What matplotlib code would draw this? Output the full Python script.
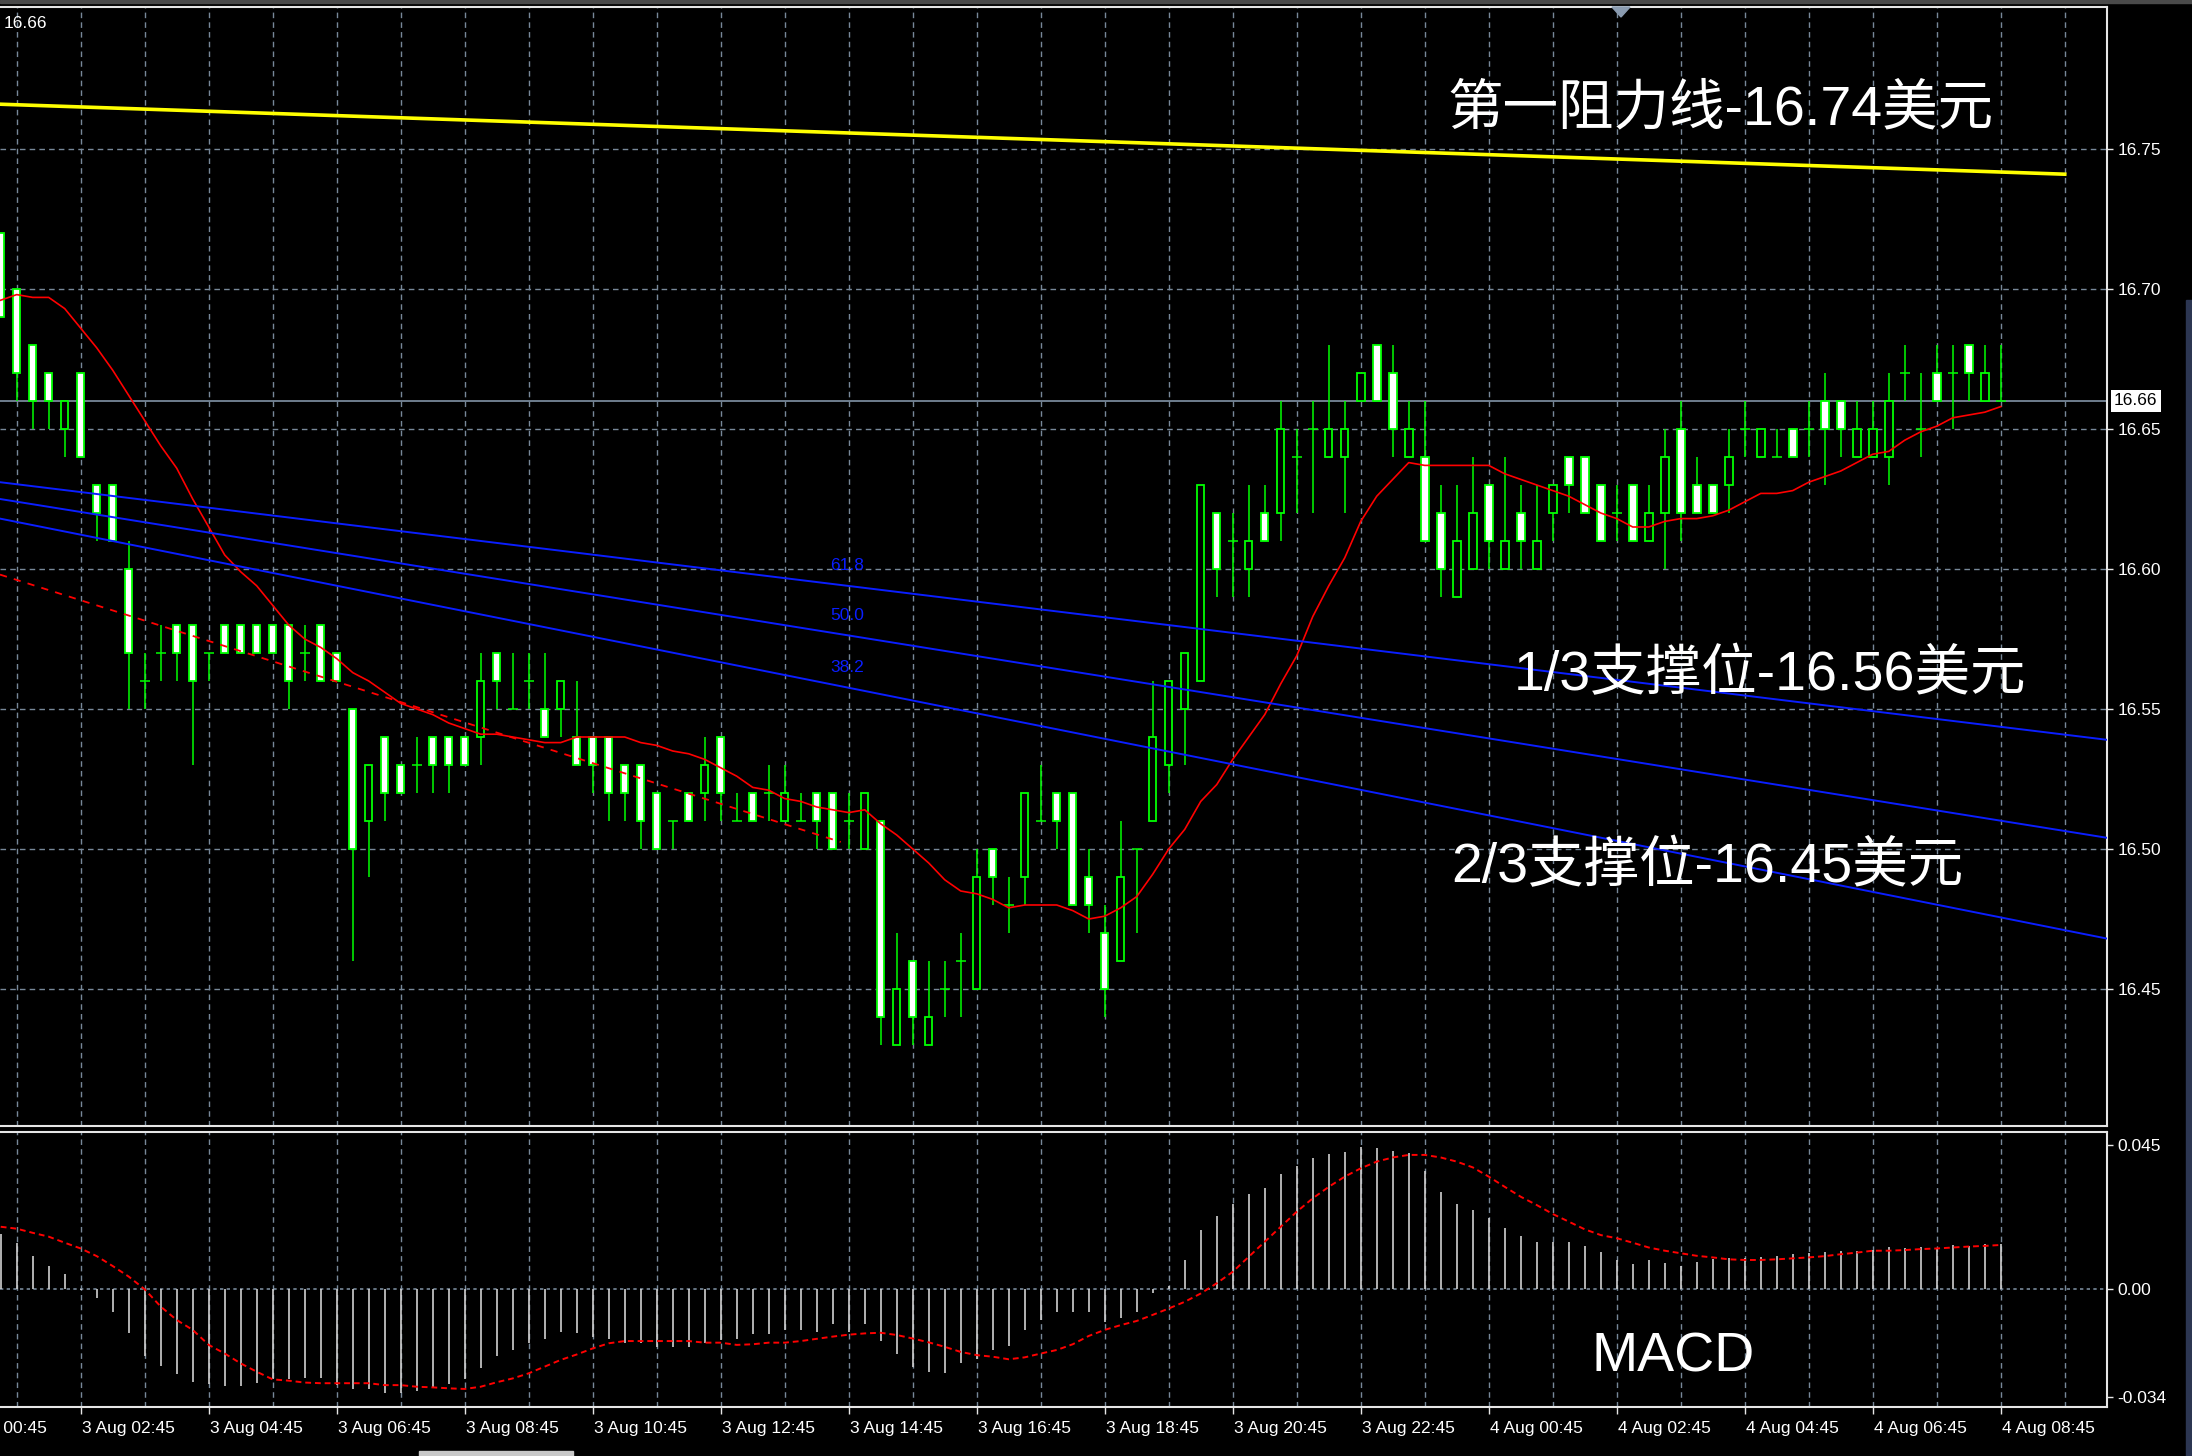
import matplotlib

matplotlib.use("Agg")
import matplotlib.pyplot as plt
import numpy as np
from matplotlib.patches import Polygon, Rectangle
from matplotlib.transforms import blended_transform_factory

plt.rcParams["font.family"] = ["Liberation Sans", "Noto Sans CJK SC"]

FIG_W, FIG_H = 2192, 1456

# 15-minute candles, 3 Aug 01:30 .. 4 Aug 08:45
OPENS = [
    16.72, 16.70, 16.68, 16.67, 16.65, 16.67, 16.63, 16.63, 16.60, 16.56,
    16.57, 16.58, 16.58, 16.57, 16.58, 16.58, 16.58, 16.58, 16.58, 16.57,
    16.58, 16.57, 16.55, 16.51, 16.54, 16.53, 16.53, 16.54, 16.54, 16.54,
    16.54, 16.57, 16.55, 16.56, 16.55, 16.55, 16.54, 16.54, 16.54, 16.53,
    16.53, 16.52, 16.51, 16.52, 16.52, 16.54, 16.51, 16.52, 16.52, 16.51,
    16.51, 16.52, 16.52, 16.51, 16.50, 16.51, 16.43, 16.46, 16.43, 16.45,
    16.46, 16.45, 16.50, 16.48, 16.49, 16.51, 16.52, 16.52, 16.49, 16.47,
    16.46, 16.50, 16.51, 16.53, 16.55, 16.56, 16.62, 16.61, 16.60, 16.62,
    16.62, 16.64, 16.65, 16.64, 16.64, 16.66, 16.68, 16.67, 16.64, 16.64,
    16.62, 16.59, 16.60, 16.63, 16.60, 16.62, 16.60, 16.62, 16.64, 16.64,
    16.63, 16.62, 16.63, 16.61, 16.62, 16.65, 16.63, 16.63, 16.63, 16.65,
    16.64, 16.64, 16.65, 16.65, 16.66, 16.66, 16.64, 16.64, 16.64, 16.67,
    16.65, 16.67, 16.67, 16.68, 16.66, 16.66,
]
HIGHS = [
    16.72, 16.70, 16.68, 16.67, 16.66, 16.67, 16.63, 16.63, 16.61, 16.57,
    16.58, 16.58, 16.58, 16.57, 16.58, 16.58, 16.58, 16.58, 16.58, 16.58,
    16.58, 16.57, 16.55, 16.53, 16.54, 16.53, 16.54, 16.54, 16.54, 16.54,
    16.57, 16.57, 16.57, 16.57, 16.57, 16.56, 16.56, 16.54, 16.54, 16.53,
    16.53, 16.52, 16.51, 16.52, 16.54, 16.54, 16.52, 16.52, 16.53, 16.53,
    16.52, 16.52, 16.52, 16.52, 16.52, 16.51, 16.47, 16.46, 16.46, 16.46,
    16.47, 16.50, 16.50, 16.49, 16.52, 16.53, 16.52, 16.52, 16.50, 16.48,
    16.51, 16.50, 16.56, 16.56, 16.57, 16.63, 16.62, 16.62, 16.63, 16.63,
    16.66, 16.65, 16.66, 16.68, 16.66, 16.67, 16.68, 16.68, 16.66, 16.66,
    16.63, 16.63, 16.64, 16.63, 16.64, 16.63, 16.63, 16.63, 16.64, 16.64,
    16.63, 16.63, 16.63, 16.63, 16.65, 16.66, 16.64, 16.63, 16.65, 16.66,
    16.65, 16.65, 16.65, 16.66, 16.67, 16.66, 16.66, 16.66, 16.67, 16.68,
    16.67, 16.68, 16.68, 16.68, 16.68, 16.68,
]
LOWS = [
    16.69, 16.66, 16.65, 16.65, 16.64, 16.64, 16.61, 16.61, 16.55, 16.55,
    16.56, 16.56, 16.53, 16.56, 16.57, 16.57, 16.57, 16.57, 16.55, 16.56,
    16.56, 16.56, 16.46, 16.49, 16.51, 16.52, 16.52, 16.52, 16.52, 16.53,
    16.53, 16.55, 16.55, 16.55, 16.54, 16.54, 16.53, 16.52, 16.51, 16.51,
    16.50, 16.50, 16.50, 16.51, 16.51, 16.51, 16.51, 16.51, 16.51, 16.51,
    16.51, 16.50, 16.50, 16.50, 16.50, 16.43, 16.43, 16.43, 16.43, 16.44,
    16.44, 16.45, 16.48, 16.47, 16.48, 16.51, 16.50, 16.48, 16.47, 16.44,
    16.46, 16.47, 16.51, 16.52, 16.53, 16.56, 16.59, 16.59, 16.59, 16.61,
    16.61, 16.62, 16.62, 16.64, 16.62, 16.66, 16.66, 16.64, 16.64, 16.61,
    16.59, 16.59, 16.60, 16.60, 16.60, 16.60, 16.60, 16.61, 16.62, 16.62,
    16.61, 16.61, 16.61, 16.61, 16.60, 16.61, 16.62, 16.62, 16.62, 16.64,
    16.64, 16.64, 16.64, 16.64, 16.63, 16.64, 16.64, 16.64, 16.63, 16.66,
    16.64, 16.66, 16.65, 16.66, 16.66, 16.66,
]
CLOSES = [
    16.69, 16.67, 16.66, 16.66, 16.66, 16.64, 16.62, 16.61, 16.57, 16.56,
    16.57, 16.57, 16.56, 16.57, 16.57, 16.57, 16.57, 16.57, 16.56, 16.57,
    16.56, 16.56, 16.50, 16.53, 16.52, 16.52, 16.53, 16.53, 16.53, 16.53,
    16.56, 16.56, 16.55, 16.56, 16.54, 16.56, 16.53, 16.53, 16.52, 16.52,
    16.51, 16.50, 16.51, 16.51, 16.53, 16.52, 16.51, 16.51, 16.52, 16.52,
    16.51, 16.51, 16.50, 16.51, 16.52, 16.44, 16.45, 16.44, 16.44, 16.45,
    16.46, 16.49, 16.49, 16.48, 16.52, 16.51, 16.51, 16.48, 16.48, 16.45,
    16.49, 16.50, 16.54, 16.56, 16.57, 16.63, 16.60, 16.61, 16.61, 16.61,
    16.65, 16.64, 16.65, 16.65, 16.65, 16.67, 16.66, 16.65, 16.65, 16.61,
    16.60, 16.61, 16.62, 16.61, 16.61, 16.61, 16.61, 16.63, 16.63, 16.62,
    16.61, 16.62, 16.61, 16.62, 16.64, 16.62, 16.62, 16.62, 16.64, 16.65,
    16.65, 16.64, 16.64, 16.65, 16.65, 16.65, 16.65, 16.65, 16.66, 16.67,
    16.65, 16.66, 16.67, 16.67, 16.67, 16.66,
]
MA_VALUES = [
    16.696, 16.698, 16.697, 16.697, 16.693, 16.686, 16.679, 16.671, 16.662, 16.653,
    16.644, 16.636, 16.625, 16.615, 16.605, 16.599, 16.594, 16.587, 16.580, 16.575,
    16.572, 16.568, 16.563, 16.560, 16.556, 16.552, 16.550, 16.548, 16.545, 16.543,
    16.541, 16.541, 16.540, 16.539, 16.538, 16.538, 16.540, 16.540, 16.540, 16.540,
    16.538, 16.537, 16.535, 16.534, 16.532, 16.529, 16.526, 16.522, 16.521, 16.518,
    16.517, 16.515, 16.514, 16.513, 16.514, 16.509, 16.505, 16.500, 16.495, 16.489,
    16.485, 16.484, 16.482, 16.479, 16.480, 16.480, 16.480, 16.478, 16.475, 16.476,
    16.479, 16.483, 16.491, 16.500, 16.507, 16.517, 16.523, 16.532, 16.540, 16.548,
    16.559, 16.569, 16.583, 16.594, 16.604, 16.617, 16.626, 16.632, 16.638, 16.637,
    16.637, 16.637, 16.637, 16.637, 16.634, 16.632, 16.630, 16.628, 16.626, 16.623,
    16.620, 16.618, 16.615, 16.615, 16.617, 16.618, 16.618, 16.619, 16.621, 16.624,
    16.627, 16.627, 16.628, 16.631, 16.633, 16.635, 16.638, 16.641, 16.642, 16.646,
    16.649, 16.651, 16.654, 16.655, 16.656, 16.658,
]
MACD_HIST = [
    0.0171, 0.0144, 0.0102, 0.0071, 0.0046, -0.0005, -0.0028, -0.0072, -0.0140, -0.0210,
    -0.0242, -0.0267, -0.0291, -0.0299, -0.0305, -0.0305, -0.0296, -0.0284, -0.0284, -0.0281,
    -0.0281, -0.0302, -0.0315, -0.0315, -0.0328, -0.0328, -0.0320, -0.0307, -0.0300, -0.0284,
    -0.0247, -0.0210, -0.0192, -0.0171, -0.0159, -0.0135, -0.0140, -0.0150, -0.0156, -0.0171,
    -0.0171, -0.0184, -0.0184, -0.0184, -0.0171, -0.0160, -0.0159, -0.0142, -0.0142, -0.0129,
    -0.0129, -0.0135, -0.0109, -0.0135, -0.0109, -0.0163, -0.0203, -0.0246, -0.0260, -0.0265,
    -0.0234, -0.0221, -0.0192, -0.0180, -0.0129, -0.0098, -0.0072, -0.0072, -0.0072, -0.0103,
    -0.0091, -0.0072, -0.0015, 0.0008, 0.0090, 0.0184, 0.0228, 0.0265, 0.0296, 0.0315,
    0.0359, 0.0384, 0.0408, 0.0422, 0.0428, 0.0445, 0.0440, 0.0432, 0.0426, 0.0370,
    0.0303, 0.0265, 0.0246, 0.0220, 0.0189, 0.0165, 0.0146, 0.0146, 0.0146, 0.0134,
    0.0115, 0.0090, 0.0077, 0.0090, 0.0079, 0.0071, 0.0084, 0.0094, 0.0096, 0.0096,
    0.0100, 0.0102, 0.0109, 0.0113, 0.0116, 0.0119, 0.0119, 0.0121, 0.0132, 0.0126,
    0.0132, 0.0129, 0.0137, 0.0134, 0.0140, 0.0140,
]
MACD_SIGNAL = [
    0.0194, 0.0188, 0.0175, 0.0163, 0.0144, 0.0126, 0.0102, 0.0071, 0.0038, -0.0002,
    -0.0056, -0.0098, -0.0129, -0.0176, -0.0203, -0.0234, -0.0260, -0.0284, -0.0288, -0.0294,
    -0.0296, -0.0296, -0.0296, -0.0296, -0.0302, -0.0302, -0.0307, -0.0309, -0.0312, -0.0314,
    -0.0307, -0.0293, -0.0281, -0.0265, -0.0244, -0.0223, -0.0206, -0.0187, -0.0171, -0.0164,
    -0.0164, -0.0164, -0.0164, -0.0164, -0.0169, -0.0169, -0.0176, -0.0174, -0.0169, -0.0169,
    -0.0164, -0.0157, -0.0150, -0.0144, -0.0140, -0.0138, -0.0145, -0.0156, -0.0168, -0.0182,
    -0.0198, -0.0208, -0.0213, -0.0221, -0.0215, -0.0203, -0.0192, -0.0174, -0.0148, -0.0129,
    -0.0114, -0.0101, -0.0082, -0.0062, -0.0041, -0.0015, 0.0017, 0.0053, 0.0100, 0.0147,
    0.0194, 0.0241, 0.0283, 0.0319, 0.0351, 0.0377, 0.0398, 0.0411, 0.0419, 0.0419,
    0.0411, 0.0398, 0.0380, 0.0351, 0.0319, 0.0288, 0.0262, 0.0234, 0.0210, 0.0186,
    0.0168, 0.0158, 0.0144, 0.0129, 0.0119, 0.0111, 0.0103, 0.0098, 0.0092, 0.0090,
    0.0090, 0.0092, 0.0095, 0.0098, 0.0102, 0.0108, 0.0113, 0.0119, 0.0119, 0.0121,
    0.0124, 0.0126, 0.0129, 0.0132, 0.0134, 0.0137,
]
TIME_LABELS = [
    "3 Aug 00:45", "3 Aug 02:45", "3 Aug 04:45", "3 Aug 06:45", "3 Aug 08:45",
    "3 Aug 10:45", "3 Aug 12:45", "3 Aug 14:45", "3 Aug 16:45", "3 Aug 18:45",
    "3 Aug 20:45", "3 Aug 22:45", "4 Aug 00:45", "4 Aug 02:45", "4 Aug 04:45",
    "4 Aug 06:45", "4 Aug 08:45",
]
PRICE_TICKS = [16.45, 16.50, 16.55, 16.60, 16.65, 16.70, 16.75]
MACD_TICKS = [0.045, 0.0, -0.034]
MACD_TICK_LABELS = ["0.045", "0.00", "-0.034"]
CURRENT_PRICE = 16.66

# resistance trend line (yellow), value at left edge / at its end bar
RESIST_START, RESIST_END = 16.766, 16.741
# fibonacci channel lines (blue), value at left edge / right edge
FIB_LEVELS = ["61.8", "50.0", "38.2"]
FIB_START = [16.631, 16.625, 16.618]
FIB_END = [16.539, 16.504, 16.468]
# red dashed trend line
TREND_START, TREND_END = 16.598, 16.5025

ANNOTATIONS = [
    ("第一阻力线-16.74美元", 1447, 110),
    ("1/3支撑位-16.56美元", 1514, 676),
    ("2/3支撑位-16.45美元", 1451, 868),
]

GREEN = "#00ff00"
GRID = "#778899"
FRAME = "#e6e6e6"
X_LEFT, X_RIGHT = -0.044, 131.64


def fx(px: float) -> float:
    return px / FIG_W


def fy(py: float) -> float:
    return 1.0 - py / FIG_H


def style_axis(axis) -> None:
    axis.set_facecolor("black")
    axis.spines["left"].set_visible(False)
    for side in ("top", "right", "bottom"):
        axis.spines[side].set_color(FRAME)
        axis.spines[side].set_linewidth(1.5)
    axis.set_xlim(X_LEFT, X_RIGHT)
    axis.set_xticks(np.arange(1, 131, 4), minor=True)
    axis.set_axisbelow(True)
    axis.yaxis.tick_right()
    axis.tick_params(axis="y", which="both", direction="out", length=4.5, width=1,
                     color=FRAME, labelcolor="white", labelsize=12.5, pad=3)


def draw_candles(axis) -> None:
    bars = np.arange(len(OPENS))
    opens = np.asarray(OPENS)
    closes = np.asarray(CLOSES)
    axis.vlines(bars, LOWS, HIGHS, color=GREEN, linewidth=1.1, zorder=2)
    body = opens != closes
    bottoms = np.minimum(opens, closes)[body]
    heights = np.abs(closes - opens)[body]
    faces = np.where(closes[body] < opens[body], "white", "black")
    axis.bar(bars[body], heights, bottom=bottoms, width=0.47, color=faces,
             edgecolor=GREEN, linewidth=1.3, zorder=2.5)
    doji = ~body
    axis.hlines(opens[doji], bars[doji] - 0.3, bars[doji] + 0.3, color=GREEN,
                linewidth=1.1, zorder=2.5)


def draw_main(fig, axis) -> None:
    style_axis(axis)
    axis.set_ylim(16.40107, 16.80082)
    axis.set_xticks([])
    axis.tick_params(axis="x", which="both", length=0, labelbottom=False)
    axis.set_yticks(PRICE_TICKS)
    axis.set_yticklabels([f"{tick:.2f}" for tick in PRICE_TICKS])
    axis.grid(axis="x", which="minor", color=GRID, linestyle=(0, (4, 3)), linewidth=1.0)
    axis.grid(axis="y", which="major", color=GRID, linestyle=(0, (4, 3)), linewidth=1.0)

    axis.axhline(CURRENT_PRICE, color=GRID, linewidth=1.3, zorder=1.5)
    draw_candles(axis)
    axis.plot(np.arange(len(MA_VALUES)), MA_VALUES, color="#ff0000", linewidth=1.2, zorder=3)

    axis.plot([X_LEFT, 129.0], [RESIST_START, RESIST_END], color="#ffff00",
              linewidth=2.6, zorder=4)
    for level, start, end in zip(FIB_LEVELS, FIB_START, FIB_END):
        axis.plot([X_LEFT, X_RIGHT], [start, end], color="#0a1eff", linewidth=1.4, zorder=4)
        label_x = 52.9
        value = start + (end - start) * (label_x - X_LEFT) / (X_RIGHT - X_LEFT)
        axis.text(label_x, value + 0.0072, level, color="#0a1eff", fontsize=12.5,
                  ha="center", va="center", zorder=5)
    axis.plot([X_LEFT, 52.5], [TREND_START, TREND_END], color="#ff0000",
              linewidth=1.3, linestyle=(0, (4, 4)), zorder=4)

    price_tf = blended_transform_factory(axis.transAxes, axis.transData)
    axis.text(1.0 + 7 / 2107, CURRENT_PRICE, f"{CURRENT_PRICE:.2f}", transform=price_tf,
              color="black", fontsize=12.5, ha="left", va="center", zorder=6,
              bbox=dict(boxstyle="square,pad=0.18", facecolor="white", edgecolor="none"))

    for text, left, center in ANNOTATIONS:
        fig.text(fx(left), fy(center), text, color="white", fontsize=40,
                 ha="left", va="center", zorder=6)
    fig.text(fx(4), fy(23.5), f"{CURRENT_PRICE:.2f}", color="white", fontsize=12.5,
             ha="left", va="center")


def draw_macd(fig, axis) -> None:
    style_axis(axis)
    axis.set_ylim(-0.03705, 0.04917)
    bars = np.arange(len(MACD_HIST))
    label_bars = np.arange(-3, len(MACD_HIST), 8)
    axis.set_xticks(label_bars[label_bars >= 0])
    axis.tick_params(axis="x", which="major", direction="out", length=5, width=1,
                     color=FRAME, labelbottom=False)
    axis.tick_params(axis="x", which="minor", length=0)
    axis.grid(axis="x", which="both", color=GRID, linestyle=(0, (4, 3)), linewidth=1.0)
    axis.set_yticks(MACD_TICKS)
    axis.set_yticklabels(MACD_TICK_LABELS)
    axis.axhline(0.0, color=GRID, linestyle=(0, (2, 2)), linewidth=1.2, zorder=1)

    axis.vlines(bars, 0, MACD_HIST, color="#d0d0d0", linewidth=1.2, zorder=2)
    axis.plot(bars, MACD_SIGNAL, color="#ff0000", linewidth=1.4,
              linestyle=(0, (3, 2)), zorder=3)

    # first label starts left of the window, so only its tail shows (as in MT4)
    label_tf = blended_transform_factory(axis.transData, fig.transFigure)
    for bar, label in zip(label_bars, TIME_LABELS):
        axis.text(bar + 0.05, fy(1428), label, transform=label_tf, color="white",
                  fontsize=12.5, ha="left", va="center", clip_on=False)
    fig.text(fx(1591), fy(1358), "MACD", color="white", fontsize=40,
             ha="left", va="center")


def draw_frame(fig) -> None:
    fig.add_artist(Rectangle((0, fy(3)), 1, 3 / FIG_H, transform=fig.transFigure,
                             color="#4a4a4a", zorder=0))
    fig.add_artist(Rectangle((fx(419), 0), 154 / FIG_W, 5 / FIG_H,
                             transform=fig.transFigure, color="#c8c8c8", zorder=0))
    fig.add_artist(Rectangle((fx(2186), 0), 6 / FIG_W, fy(300),
                             transform=fig.transFigure, color="#2c3652", zorder=0))
    triangle = [(fx(1612), fy(7)), (fx(1630), fy(7)), (fx(1621), fy(17))]
    fig.add_artist(Polygon(triangle, closed=True, transform=fig.transFigure,
                           color="#8a9bb0", zorder=10))


def main() -> None:
    fig = plt.figure(figsize=(FIG_W / 100, FIG_H / 100), dpi=100, facecolor="black")
    main_axis = fig.add_axes([0, fy(1126), fx(2107), (1126 - 6.7) / FIG_H])
    macd_axis = fig.add_axes([0, fy(1407), fx(2107), (1407 - 1131.7) / FIG_H])
    draw_main(fig, main_axis)
    draw_macd(fig, macd_axis)
    draw_frame(fig)
    fig.savefig("out.png", dpi=100, facecolor="black")
    plt.close(fig)


if __name__ == "__main__":
    main()
